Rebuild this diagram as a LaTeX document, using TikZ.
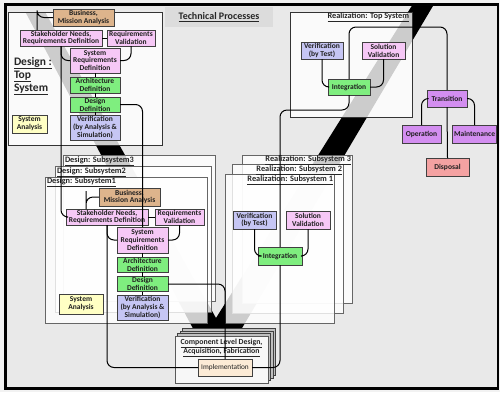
\documentclass[tikz,border=0pt]{standalone}
\usepackage{fontspec}
\setmainfont{Carlito}
\definecolor{outerbg}{HTML}{F2F2F2}
\definecolor{pagebg}{HTML}{E9E9E9}
\definecolor{titlebg}{HTML}{DCDCDC}
\definecolor{tanfill}{HTML}{DDB48C}
\definecolor{pinkfill}{HTML}{F6C8F6}
\definecolor{greenfill}{HTML}{7FEE7F}
\definecolor{lavfill}{HTML}{C6C6F4}
\definecolor{yelfill}{HTML}{FFFFC4}
\definecolor{purpfill}{HTML}{D38EF0}
\definecolor{salfill}{HTML}{F4A2A2}
\definecolor{peachfill}{HTML}{FCEBD6}
\begin{document}
\begin{tikzpicture}[x=1pt,y=-1pt,
  every node/.style={inner sep=0pt,outer sep=0pt},
  proc/.style={draw=black!75,line width=0.7pt,align=center,text=black!88,
    font=\bfseries\fontsize{7.5}{7.8}\selectfont},
  bizbox/.style={proc,fill=tanfill},
  pinkbox/.style={proc,fill=pinkfill},
  greenbox/.style={proc,fill=greenfill},
  lavbox/.style={proc,fill=lavfill},
  yelbox/.style={proc,fill=yelfill},
  purpbox/.style={proc,fill=purpfill},
  salbox/.style={proc,fill=salfill},
  implbox/.style={proc,fill=peachfill,font=\fontsize{7.3}{7.6}\selectfont},
  panel/.style={draw=black!60,line width=0.8pt,fill=white,fill opacity=0.8},
  toppanel/.style={draw=black!80,line width=0.9pt,fill=white,fill opacity=0.8},
  sheet/.style={draw=black!75,line width=0.6pt,fill=black!25},
  frontsheet/.style={draw=black!65,line width=0.7pt,fill=white!97!black},
  paneltitle/.style={font=\bfseries\fontsize{8.3}{9}\selectfont,text=black!85},
  link/.style={draw=black,line width=1pt,rounded corners=7pt}]

% page and frame
\useasboundingbox (0,0) rectangle (500,392);
\fill[outerbg] (0,0) rectangle (500,392);
\fill[pagebg] (5.5,4.5) rectangle (498,388.5);

% the V band behind the panels
\begin{scope}
  \clip (5.5,12) -- (200,12) -- (200,4.5) -- (498,4.5) -- (498,388.5) -- (5.5,388.5) -- cycle;
  \fill[black] (16.4,-5) -- (216,372) -- (436.5,0) -- (415.5,0) -- (216,318) -- (35.6,-5) -- cycle;
\end{scope}
\draw[black,line width=2.5pt] (5.5,4.5) rectangle (498,388.5);

% title
\fill[titlebg] (165,7) rectangle (273,27);
\node[font=\bfseries\fontsize{10}{12}\selectfont,text=black!85] (title) at (219,17.5) {\underline{Technical Processes}};

% panels
\path[toppanel] (8,12) rectangle (162,145);
\path[toppanel] (290,12) rectangle (412,117);
\path[panel] (63,155) rectangle (215,301);
\path[panel] (55,166) rectangle (211,312);
\path[panel] (45,177) rectangle (207,323);
\path[panel] (242,155) rectangle (352,303);
\path[panel] (232,164) rectangle (343,313);
\path[panel] (225,174) rectangle (334,323);

% component stack
\path[sheet] (182.5,328.5) rectangle (275.5,375.5);
\path[sheet] (180,331) rectangle (273,378);
\path[sheet] (177.5,333.5) rectangle (270.5,380.5);
\path[frontsheet] (175,336) rectangle (268,383);

% panel titles
\node[anchor=north west,align=left,font=\bfseries\fontsize{11.5}{13}\selectfont,text=black!85] (dtop) at (14,57)
  {\underline{Design :}\\\underline{Top}\\\underline{System}};
\node[paneltitle,anchor=east] (rtop) at (409,17) {\underline{Realization: Top System}};
\node[paneltitle,anchor=west] (ds3) at (65,161) {\underline{Design: Subsystem3}};
\node[paneltitle,anchor=west] (ds2) at (57,172) {\underline{Design: Subsystem2}};
\node[paneltitle,anchor=west] (ds1) at (47,182) {\underline{Design: Subsystem1}};
\node[paneltitle,anchor=east] (rs3) at (351,160) {\underline{Realization: Subsystem 3}};
\node[paneltitle,anchor=east] (rs2) at (342,170) {\underline{Realization: Subsystem 2}};
\node[paneltitle,anchor=east] (rs1) at (333,180) {\underline{Realization: Subsystem 1}};
\node[paneltitle,align=center,font=\bfseries\fontsize{7.8}{9}\selectfont] (comp) at (221.5,347.5)
  {\underline{Component Level Design,}\\\underline{Acquisition, Fabrication}};

% design: top system
\node[bizbox,minimum width=61pt,minimum height=17pt] (tBus) at (83.5,17.5) {Business,\\Mission Analysis};
\node[pinkbox,minimum width=82pt,minimum height=16pt] (tStake) at (61,38) {Stakeholder Needs,\\Requirements Definition};
\node[pinkbox,minimum width=48pt,minimum height=16pt] (tReqV) at (131,38) {Requirements\\Validation};
\node[pinkbox,minimum width=50pt,minimum height=25pt] (tSysR) at (95,60.5) {System\\Requirements\\Definition};
\node[greenbox,minimum width=50pt,minimum height=16pt] (tArch) at (95,85) {Architecture\\Definition};
\node[greenbox,minimum width=50pt,minimum height=15pt] (tDes) at (95,104.5) {Design\\Definition};
\node[lavbox,minimum width=50pt,minimum height=25pt] (tVer) at (95,127.5) {Verification\\(by Analysis \&\\Simulation)};
\node[yelbox,minimum width=35pt,minimum height=18pt] (tSA) at (29.5,124) {System\\Analysis};

% design: subsystem
\node[bizbox,minimum width=61pt,minimum height=18pt] (sBus) at (129.5,197) {Business,\\Mission Analysis};
\node[pinkbox,minimum width=82pt,minimum height=16pt] (sStake) at (107,217) {Stakeholder Needs,\\Requirements Definition};
\node[pinkbox,minimum width=49pt,minimum height=16pt] (sReqV) at (179.5,217) {Requirements\\Validation};
\node[pinkbox,minimum width=51pt,minimum height=26pt] (sSysR) at (142.5,240) {System\\Requirements\\Definition};
\node[greenbox,minimum width=51pt,minimum height=15pt] (sArch) at (142.5,264.5) {Architecture\\Definition};
\node[greenbox,minimum width=51pt,minimum height=15pt] (sDes) at (142.5,284) {Design\\Definition};
\node[lavbox,minimum width=51pt,minimum height=25pt] (sVer) at (142.5,307.5) {Verification\\(by Analysis \&\\Simulation)};
\node[yelbox,minimum width=44pt,minimum height=20pt] (sSA) at (81,304) {System\\Analysis};

% realization: top system
\node[lavbox,minimum width=42pt,minimum height=17pt] (rVer) at (322,50.5) {Verification\\(by Test)};
\node[pinkbox,minimum width=43pt,minimum height=17pt] (rSol) at (383.5,50.5) {Solution\\Validation};
\node[greenbox,minimum width=42pt,minimum height=16pt] (rInt) at (349,87) {Integration};

% realization: subsystem
\node[lavbox,minimum width=43pt,minimum height=18pt] (sVerT) at (254.5,220) {Verification\\(by Test)};
\node[pinkbox,minimum width=44pt,minimum height=18pt] (sSolV) at (308,220) {Solution\\Validation};
\node[greenbox,minimum width=44pt,minimum height=18pt] (sInt) at (280,256) {Integration};

% transition and beyond
\node[purpbox,minimum width=40pt,minimum height=17pt] (trans) at (447,98.5) {Transition};
\node[purpbox,minimum width=39pt,minimum height=18pt] (oper) at (421.5,134) {Operation};
\node[purpbox,minimum width=44pt,minimum height=18pt] (maint) at (474.5,134) {Maintenance};
\node[salbox,minimum width=43pt,minimum height=18pt] (disp) at (447.5,167) {Disposal};

% implementation
\node[implbox,minimum width=54pt,minimum height=17pt] (impl) at (225,367.5) {Implementation};

% waypoints
\coordinate (bendA) at (37,17.5);
\coordinate (bendB) at (86,198);
\coordinate (loopTop) at (400,27);
\coordinate (dropMid) at (300,110);

% connectors: design, top system
\draw[link] (tBus.west) -| (bendA) -- (bendA |- tStake.north);
\draw[link] (tStake.east) -- (tReqV.west);
\draw[link] (tStake.south) |- (tSysR.west);
\draw[link] (tReqV.south) |- (tSysR.east);
\draw[link] (tSysR.south) -- (tArch.north);
\draw[link] (tArch.south) -- (tDes.north);
\draw[link] (tDes.south) -- (tVer.north);
\draw[link] (tDes.east) -| (sSysR.north);
\draw[link] (tStake.south) |- (sStake.west);

% connectors: design, subsystem
\draw[link] (sBus.west) -| (bendB) -- (bendB |- sStake.north);
\draw[link] (sStake.east) -- (sReqV.west);
\draw[link] (sStake.south) |- (sSysR.west);
\draw[link] (sReqV.south) |- (sSysR.east);
\draw[link] (sSysR.south) -- (sArch.north);
\draw[link] (sArch.south) -- (sDes.north);
\draw[link] (sDes.south) -- (sVer.north);
\draw[link] (sDes.east) -| (impl.north);
\draw[link] (sStake.south) |- (impl.west);

% connectors: realization
\draw[link] (rVer.south) |- (rInt.west);
\draw[link] (rSol.south) |- (rInt.east);
\draw[link] (rInt.north) |- (loopTop) -| (trans.north);
\draw[link] (rInt.south) |- (dropMid) -| (sInt.north);
\draw[link] (sVerT.south) |- (sInt.west);
\draw[link] (sSolV.south) |- (sInt.east);
\draw[link] (sInt.south) |- (impl.east);

% connectors: transition
\draw[link] (trans.west) -| (oper.north);
\draw[link] (trans.east) -| (maint.north);
\draw[link] (trans.south) -- (disp.north);
\end{tikzpicture}
\end{document}
